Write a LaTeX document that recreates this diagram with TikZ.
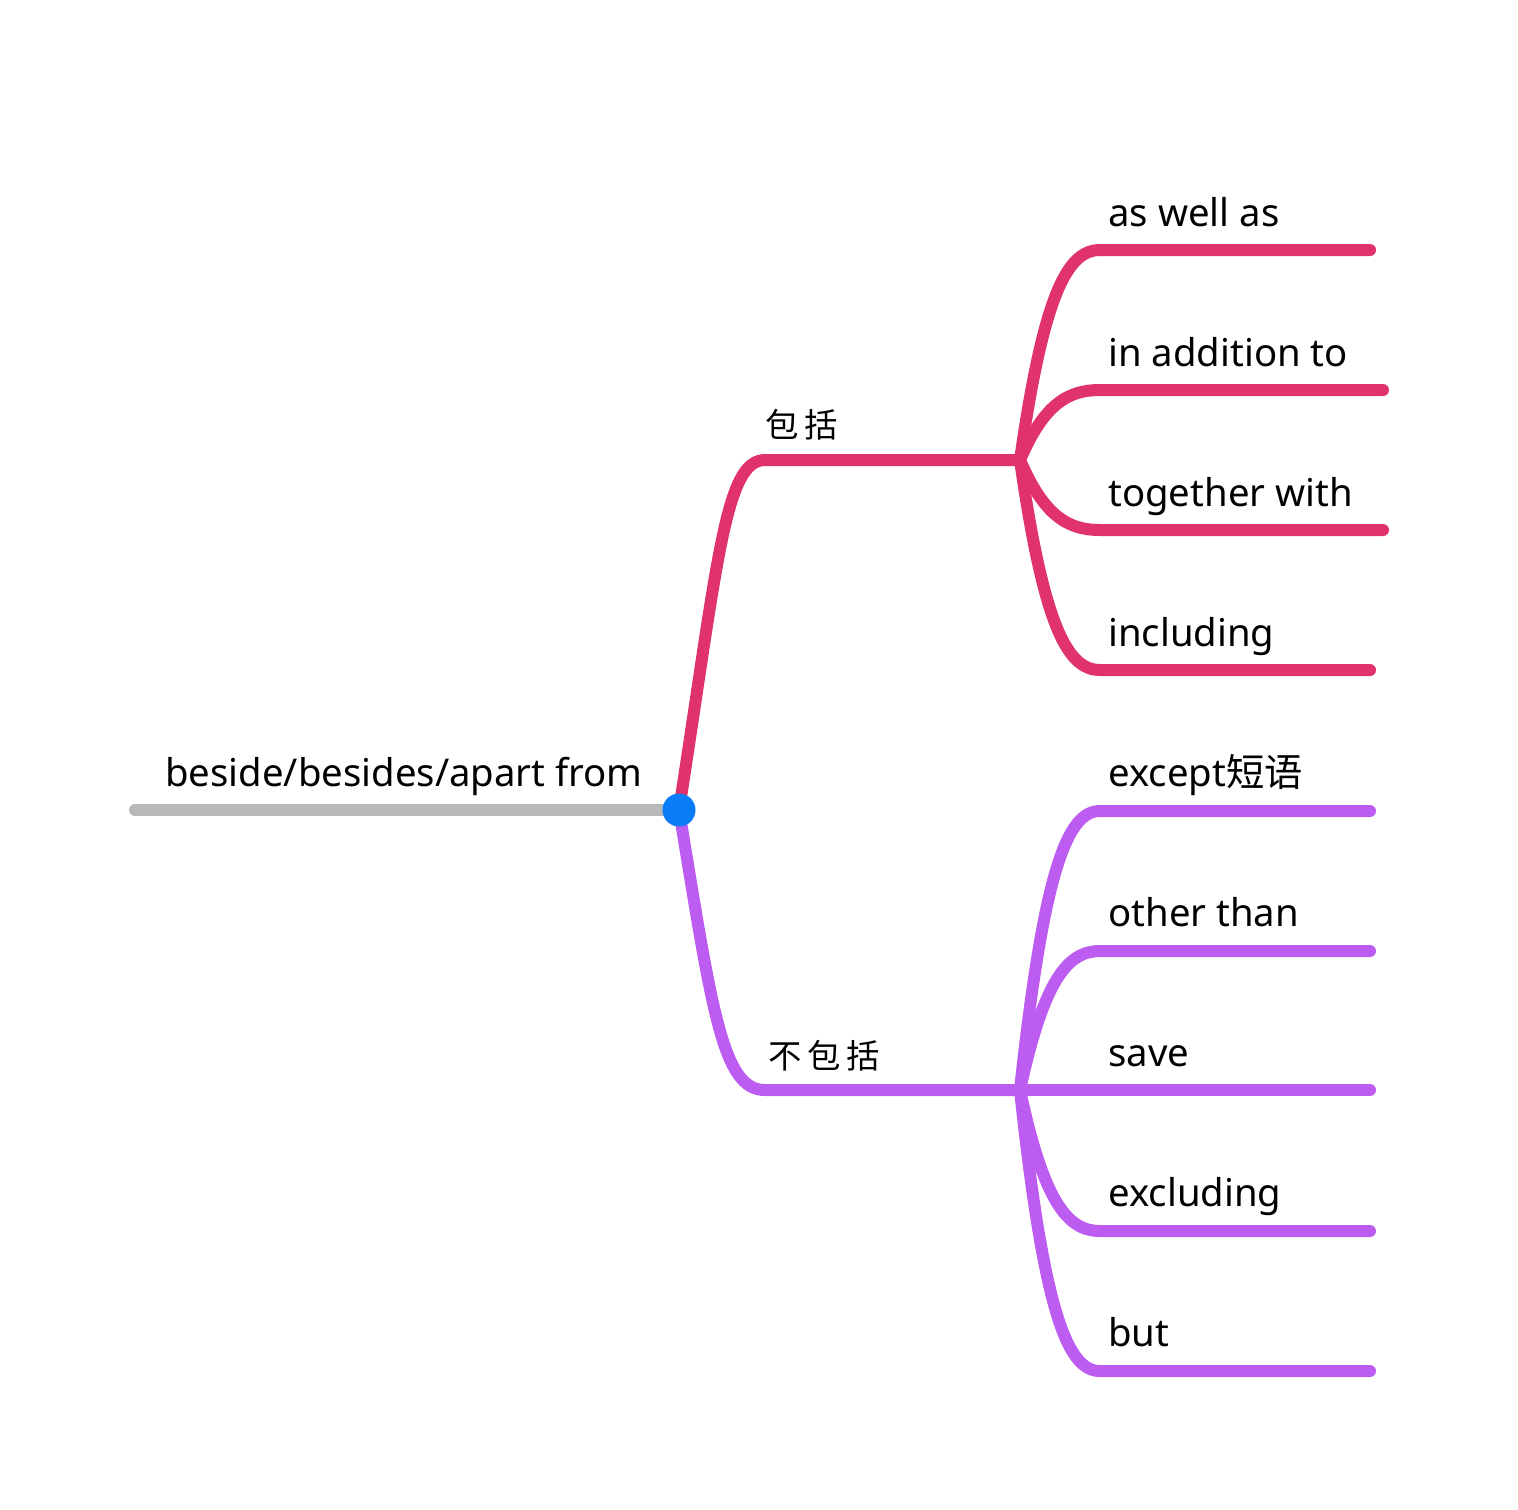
\documentclass[tikz,border=0pt]{standalone}
\usepackage{fontspec}
\setmainfont{Noto Sans}
\newfontfamily\cjk{Noto Sans CJK SC}
\definecolor{rootgray}{HTML}{B8B8BB}
\definecolor{hubblue}{HTML}{0A7CF7}
\definecolor{inclpink}{HTML}{E0336E}
\definecolor{exclpurple}{HTML}{BC5CF0}
\tikzset{
  branch/.style={line width=0.24cm, line cap=round, line join=round},
  word/.style={inner sep=0pt, anchor=base west, font=\fontsize{21.8pt}{26pt}\selectfont},
  hanzi/.style={inner sep=0pt, anchor=base west, font=\cjk\fontsize{19pt}{23pt}\selectfont},
  hubdot/.style={circle, fill=hubblue, inner sep=0pt, minimum size=0.66cm}
}
\begin{document}
\begin{tikzpicture}[x=0.02cm,y=-0.02cm]
\useasboundingbox (0,0) rectangle (1518,1509);
% root
\coordinate (rootstart) at (135,810);
\coordinate (hub) at (679,810);
\draw [branch, rootgray] (rootstart) -- (hub);
\node [word] (roottxt) at (165,786) {beside/besides/apart from};
% 包括
\coordinate (inclfork) at (1020,460);
\draw [branch, inclpink] (hub) .. controls (718,560) and (725,460) .. (765,460) -- (inclfork);
\node [hanzi] (incltxt) at (765,437) {包\,括};
\coordinate (aswell) at (1100,250);
\coordinate (addition) at (1100,390);
\coordinate (together) at (1100,530);
\coordinate (including) at (1100,670);
\draw [branch, inclpink] (inclfork) .. controls (1044,292) and (1068,250) .. (aswell) -- +(270,0);
\draw [branch, inclpink] (inclfork) .. controls (1044,404) and (1068,390) .. (addition) -- +(283,0);
\draw [branch, inclpink] (inclfork) .. controls (1044,516) and (1068,530) .. (together) -- +(283,0);
\draw [branch, inclpink] (inclfork) .. controls (1044,628) and (1068,670) .. (including) -- +(270,0);
\node [word] (aswelltxt) at (1108,226) {as well as};
\node [word] (additiontxt) at (1108,366) {in addition to};
\node [word] (togethertxt) at (1108,506) {together with};
\node [word] (includingtxt) at (1108,646) {including};
% 不包括
\coordinate (exclfork) at (1020,1090);
\draw [branch, exclpurple] (hub) .. controls (712,1009) and (722,1090) .. (765,1090) -- (exclfork);
\node [hanzi] (excltxt) at (768,1068) {不\,包\,括};
\coordinate (except) at (1100,811);
\coordinate (otherthan) at (1100,951);
\coordinate (save) at (1100,1090);
\coordinate (excluding) at (1100,1231);
\coordinate (but) at (1100,1371);
\draw [branch, exclpurple] (exclfork) .. controls (1044,867) and (1068,811) .. (except) -- +(270,0);
\draw [branch, exclpurple] (exclfork) .. controls (1044,979) and (1068,951) .. (otherthan) -- +(270,0);
\draw [branch, exclpurple] (exclfork) -- (save) -- +(270,0);
\draw [branch, exclpurple] (exclfork) .. controls (1044,1203) and (1068,1231) .. (excluding) -- +(270,0);
\draw [branch, exclpurple] (exclfork) .. controls (1044,1315) and (1068,1371) .. (but) -- +(270,0);
\node [word] (excepttxt) at (1108,786) {except{\cjk 短语}};
\node [word] (otherthantxt) at (1108,926) {other than};
\node [word] (savetxt) at (1108,1066) {save};
\node [word] (excludingtxt) at (1108,1206) {excluding};
\node [word] (buttxt) at (1108,1346) {but};
\node [hubdot] (hubnode) at (hub) {};
\end{tikzpicture}
\end{document}
